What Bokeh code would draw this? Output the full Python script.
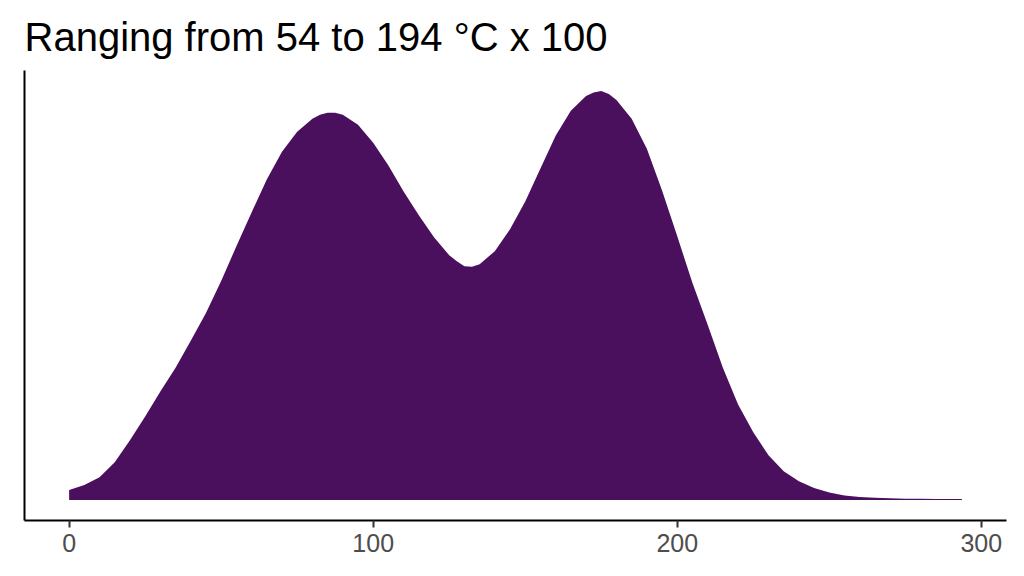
from bokeh.plotting import figure
from bokeh.models import Range1d, FixedTicker
from bokeh.embed import file_html
from bokeh.resources import INLINE

# Values (x in units, height in relative density units)
temp_x = [0, 5, 10, 15, 20, 25, 30, 35, 40, 45, 50, 55, 60, 65, 70, 75, 80, 82.5,
          85, 87.5, 90, 95, 100, 105, 110, 115, 120, 125, 127.5, 130, 132.5, 135,
          140, 145, 150, 155, 160, 165, 170, 172.5, 175, 177.5, 180, 185, 190,
          195, 200, 205, 210, 215, 220, 225, 230, 235, 240, 245, 250, 255, 260,
          265, 270, 275, 280, 285, 290, 293.6]
density = [10, 15, 23, 38, 60, 84, 109, 133, 160, 188, 220, 255, 289, 322, 350,
           370, 383, 387, 389, 389, 387, 377, 359, 336, 310, 286, 264, 246, 240,
           235, 234.5, 237, 250, 272, 300, 333, 366, 391, 406, 409.5, 411, 408,
           402, 383, 353, 311, 265, 218, 176, 133, 96, 68, 45, 29, 19, 12, 7.5,
           4.5, 3, 2.2, 1.7, 1.4, 1.2, 1.1, 1.0, 1.0]
x_ticks = [0, 100, 200, 300]
title_text = "Ranging from 54 to 194 °C x 100"

x_min, x_max = min(temp_x), max(temp_x)
y_max = max(density)
xpad = 0.05 * (x_max - x_min)
ypad = 0.05 * y_max

p = figure(width=1024, height=576, output_backend="svg", toolbar_location=None,
           x_range=Range1d(x_min - xpad, x_max + xpad),
           y_range=Range1d(-ypad, y_max + ypad),
           min_border_left=24, min_border_right=18, min_border_top=68,
           min_border_bottom=56, title=title_text)

p.varea(x=temp_x, y1=0, y2=density, fill_color="#4A105D")

p.title.text_font = "Liberation Sans"
p.title.text_font_size = "40px"
p.title.text_font_style = "normal"
p.title.text_color = "black"
p.title.offset = 0
p.title.standoff = 24

p.xgrid.visible = False
p.ygrid.visible = False
p.outline_line_color = None
p.background_fill_color = "white"
p.border_fill_color = "white"

p.xaxis.ticker = FixedTicker(ticks=x_ticks)
p.xaxis.axis_line_color = "black"
p.xaxis.axis_line_width = 2
p.xaxis.major_tick_line_color = "#333333"
p.xaxis.major_tick_line_width = 2
p.xaxis.major_tick_out = 7
p.xaxis.major_tick_in = 0
p.xaxis.minor_tick_line_color = None
p.xaxis.major_label_text_font = "Liberation Sans"
p.xaxis.major_label_text_font_size = "25px"
p.xaxis.major_label_text_color = "#4D4D4D"
p.xaxis.major_label_standoff = 6

p.yaxis.ticker = FixedTicker(ticks=[])
p.yaxis.axis_line_color = "black"
p.yaxis.axis_line_width = 2
p.yaxis.major_tick_line_color = None
p.yaxis.minor_tick_line_color = None
p.yaxis.major_tick_out = 0
p.yaxis.major_label_standoff = 0
p.yaxis.major_label_text_font_size = "0px"

open("out.html", "w").write(file_html(p, INLINE))
